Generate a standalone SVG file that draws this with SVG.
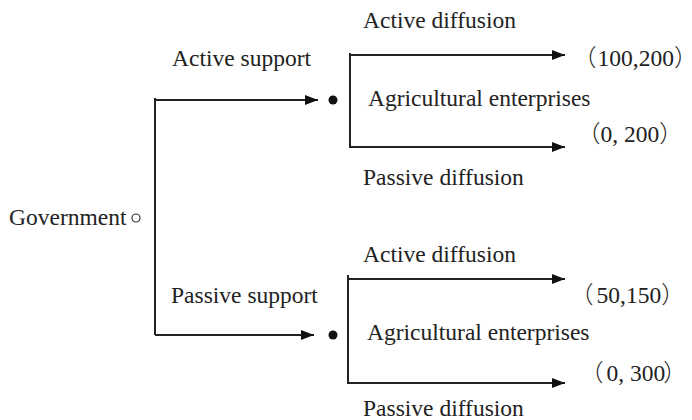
<svg xmlns="http://www.w3.org/2000/svg" width="692" height="420" viewBox="0 0 692 420">
  <style>
    .lbl { font-family: "Liberation Serif", "Times New Roman", Tinos, "DejaVu Serif", serif; font-size: 23.5px; fill: #222; }
    .cjk { font-family: "Noto Sans CJK SC", sans-serif; font-weight: 300; }
    .ln { fill: none; stroke: #222; stroke-width: 2; }
  </style>
  <defs>
    <marker id="arrow" markerUnits="userSpaceOnUse" markerWidth="14" markerHeight="12" refX="13" refY="6" orient="auto">
      <path d="M0,1 L13,6 L0,11 Z" fill="#111"/>
    </marker>
  </defs>
  <rect width="692" height="420" fill="#fff"/>

  <g id="connectors">
    <!-- trunk from the government node -->
    <path class="ln" d="M155,98 V335"/>
    <path class="ln" d="M155,100 H318" marker-end="url(#arrow)"/>
    <path class="ln" d="M155,335 H314" marker-end="url(#arrow)"/>
    <!-- upper enterprise branches -->
    <path class="ln" d="M350,53 V148"/>
    <path class="ln" d="M350,55 H565" marker-end="url(#arrow)"/>
    <path class="ln" d="M350,147 H565" marker-end="url(#arrow)"/>
    <!-- lower enterprise branches -->
    <path class="ln" d="M348,275 V384"/>
    <path class="ln" d="M348,279 H565" marker-end="url(#arrow)"/>
    <path class="ln" d="M348,383 H565" marker-end="url(#arrow)"/>
  </g>

  <g id="government">
    <text class="lbl" x="9" y="225">Government</text>
    <circle cx="136" cy="218" r="4" fill="none" stroke="#333" stroke-width="1.2"/>
  </g>

  <g id="active-support">
    <text class="lbl" x="172" y="66">Active support</text>
  </g>
  <g id="passive-support">
    <text class="lbl" x="171" y="303">Passive support</text>
  </g>

  <g id="enterprise-upper">
    <circle cx="333" cy="100" r="4.5" fill="#111"/>
    <text class="lbl" x="368" y="106">Agricultural enterprises</text>
    <text class="lbl" x="363" y="28">Active diffusion</text>
    <text class="lbl" x="363" y="185">Passive diffusion</text>
    <text class="lbl" x="573" y="66"><tspan class="cjk">（</tspan><tspan dx="1">100,200</tspan><tspan class="cjk">）</tspan></text>
    <text class="lbl" x="577" y="142"><tspan class="cjk">（</tspan>0, 200<tspan class="cjk">）</tspan></text>
  </g>

  <g id="enterprise-lower">
    <circle cx="333" cy="335" r="4.5" fill="#111"/>
    <text class="lbl" x="367" y="340">Agricultural enterprises</text>
    <text class="lbl" x="363" y="262">Active diffusion</text>
    <text class="lbl" x="363" y="416">Passive diffusion</text>
    <text class="lbl" x="570" y="303"><tspan class="cjk">（</tspan><tspan dx="3">50,150</tspan><tspan class="cjk">）</tspan></text>
    <text class="lbl" x="580" y="381"><tspan class="cjk">（</tspan><tspan dx="3">0, 300</tspan><tspan class="cjk" dx="-2">）</tspan></text>
  </g>
</svg>
